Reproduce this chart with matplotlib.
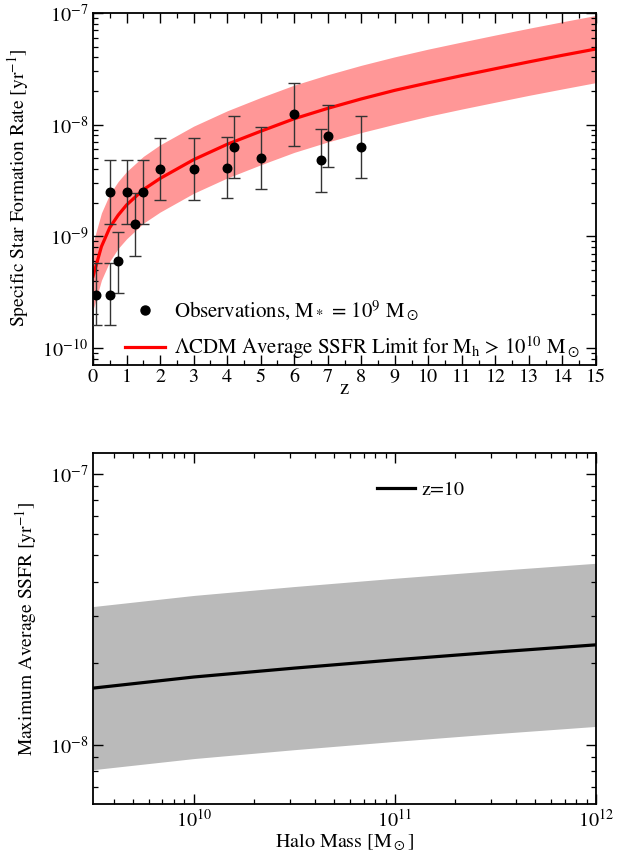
import matplotlib
matplotlib.use("Agg")
import matplotlib.pyplot as plt
from matplotlib.lines import Line2D
from matplotlib.ticker import LogLocator, MultipleLocator, NullFormatter

plt.rcParams.update({
    "font.family": ["STIXGeneral", "DejaVu Serif"],
    "mathtext.fontset": "stix",
    "font.size": 15,
    "axes.linewidth": 1.3,
    "xtick.direction": "in",
    "ytick.direction": "in",
    "xtick.top": True,
    "ytick.right": True,
    "xtick.major.size": 7,
    "ytick.major.size": 7,
    "xtick.minor.size": 3.5,
    "ytick.minor.size": 3.5,
    "xtick.major.width": 1.0,
    "ytick.major.width": 1.0,
    "xtick.minor.width": 0.9,
    "ytick.minor.width": 0.9,
    "xtick.labelsize": 14.5,
    "ytick.labelsize": 14.5,
})

# observed SSFR points with asymmetric error limits
z_obs = [0.1, 0.5, 0.5, 0.75, 1.0, 1.25, 1.5, 2.0, 3.0, 4.0, 4.2, 5.0, 6.0, 6.8, 7.0, 8.0]
ssfr_obs = [3.0e-10, 3.0e-10, 2.5e-9, 6.0e-10, 2.5e-9, 1.3e-9, 2.5e-9, 4.0e-9,
            4.0e-9, 4.1e-9, 6.3e-9, 5.0e-9, 1.24e-8, 4.8e-9, 7.9e-9, 6.3e-9]
ssfr_hi = [5.8e-10, 5.8e-10, 4.8e-9, 1.1e-9, 4.8e-9, 2.45e-9, 4.8e-9, 7.6e-9,
           7.6e-9, 7.8e-9, 1.19e-8, 9.5e-9, 2.35e-8, 9.1e-9, 1.5e-8, 1.19e-8]
ssfr_lo = [1.6e-10, 1.6e-10, 1.3e-9, 3.1e-10, 1.3e-9, 6.7e-10, 1.3e-9, 2.1e-9,
           2.1e-9, 2.2e-9, 3.3e-9, 2.64e-9, 6.5e-9, 2.5e-9, 4.16e-9, 3.3e-9]

# LCDM average SSFR limit vs redshift, with its spread
z_model = [0, 0.1, 0.25, 0.5, 0.75, 1, 1.5, 2, 3, 4, 5, 6, 7, 8, 9, 10, 11, 12, 13, 14, 15]
ssfr_model = [4.4e-10, 5.6e-10, 8.1e-10, 1.2e-9, 1.55e-9, 1.91e-9, 2.62e-9, 3.3e-9,
              4.86e-9, 6.67e-9, 8.73e-9, 1.13e-8, 1.40e-8, 1.7e-8, 2.03e-8, 2.37e-8,
              2.75e-8, 3.17e-8, 3.65e-8, 4.18e-8, 4.76e-8]
model_hi = [8.8e-10, 1.12e-9, 1.62e-9, 2.4e-9, 3.1e-9, 3.8e-9, 5.2e-9, 6.6e-9,
            9.7e-9, 1.33e-8, 1.75e-8, 2.26e-8, 2.8e-8, 3.4e-8, 4.05e-8, 4.75e-8,
            5.5e-8, 6.35e-8, 7.3e-8, 8.35e-8, 9.5e-8]
model_lo = [2.2e-10, 2.8e-10, 4.05e-10, 6.0e-10, 7.8e-10, 9.5e-10, 1.31e-9, 1.65e-9,
            2.43e-9, 3.33e-9, 4.37e-9, 5.65e-9, 7.0e-9, 8.5e-9, 1.01e-8, 1.19e-8,
            1.38e-8, 1.59e-8, 1.83e-8, 2.09e-8, 2.38e-8]

# maximum average SSFR at z=10 vs halo mass
halo_mass = [10**9.5, 1e10, 10**10.5, 1e11, 10**11.5, 1e12]
ssfr_z10 = [1.62e-8, 1.78e-8, 1.92e-8, 2.06e-8, 2.20e-8, 2.34e-8]
z10_hi = [3.24e-8, 3.56e-8, 3.84e-8, 4.12e-8, 4.40e-8, 4.68e-8]
z10_lo = [8.1e-9, 8.9e-9, 9.6e-9, 1.03e-8, 1.10e-8, 1.17e-8]

fig = plt.figure(figsize=(6.33, 8.60), dpi=100)
ax1 = fig.add_axes([0.147, 0.5756, 0.7945, 0.4093])
ax2 = fig.add_axes([0.147, 0.0651, 0.7945, 0.4082])

# --- top: SSFR vs redshift ---
ax1.fill_between(z_model, model_lo, model_hi, color="#ff9797", lw=0, zorder=1)
ax1.plot(z_model, ssfr_model, color="#ff0000", lw=2.3, zorder=2)
yerr = [[s - l for s, l in zip(ssfr_obs, ssfr_lo)],
        [h - s for s, h in zip(ssfr_obs, ssfr_hi)]]
ax1.errorbar(z_obs, ssfr_obs, yerr=yerr, fmt="none", ecolor="#333333",
             elinewidth=1.0, capsize=4.5, capthick=1.0, zorder=3)
ax1.scatter(z_obs, ssfr_obs, s=38, color="black", zorder=4)

ax1.set_yscale("log")
ax1.set_xlim(0, 15)
ax1.set_ylim(7.05e-11, 1e-7)
ax1.xaxis.set_major_locator(MultipleLocator(1))
ax1.xaxis.set_minor_locator(MultipleLocator(0.5))
ax1.yaxis.set_major_locator(LogLocator(base=10, numticks=10))
ax1.yaxis.set_minor_locator(LogLocator(base=10, subs=range(2, 10), numticks=10))
ax1.yaxis.set_minor_formatter(NullFormatter())
ax1.tick_params(axis="x", pad=3)
ax1.set_xlabel("z", fontsize=15, labelpad=-5)
ax1.set_ylabel(r"Specific Star Formation Rate [yr$^{-1}$]", fontsize=14)
ax1.yaxis.set_label_coords(-0.123, 0.504)

h_obs = Line2D([], [], ls="none", marker="o", color="black", markersize=6.5)
h_mod = Line2D([], [], color="#ff0000", lw=2.3)
ax1.legend([h_obs, h_mod],
           [r"Observations, M$_*$ = 10$^9$ M$_\odot$",
            r"$\Lambda$CDM Average SSFR Limit for M$_\mathrm{h}$ > 10$^{10}$ M$_\odot$"],
           loc="lower left", bbox_to_anchor=(0.064, 0.01), frameon=False,
           handlelength=1.9, handletextpad=0.42, labelspacing=0.55,
           borderpad=0.0, borderaxespad=0.0, fontsize=15)

# --- bottom: max average SSFR vs halo mass ---
ax2.fill_between(halo_mass, z10_lo, z10_hi, color="#bababa", lw=0, zorder=1)
ax2.plot(halo_mass, ssfr_z10, color="black", lw=2.3, zorder=2, label="z=10")
ax2.set_xscale("log")
ax2.set_yscale("log")
ax2.set_xlim(10**9.5, 1e12)
ax2.set_ylim(6.05e-9, 1.195e-7)
ax2.xaxis.set_minor_locator(LogLocator(base=10, subs=range(2, 10), numticks=10))
ax2.xaxis.set_minor_formatter(NullFormatter())
ax2.yaxis.set_minor_locator(LogLocator(base=10, subs=range(2, 10), numticks=10))
ax2.yaxis.set_minor_formatter(NullFormatter())
ax2.set_xlabel(r"Halo Mass [M$_\odot$]", fontsize=14.5, labelpad=1)
ax2.set_ylabel(r"Maximum Average SSFR [yr$^{-1}$]", fontsize=14)
ax2.yaxis.set_label_coords(-0.107, 0.5)
ax2.legend(loc="center left", bbox_to_anchor=(0.5646, 0.895), frameon=False,
           handlelength=1.9, handletextpad=0.3, borderpad=0.0,
           borderaxespad=0.0, fontsize=14.5)

fig.savefig("out.png", dpi=100)
